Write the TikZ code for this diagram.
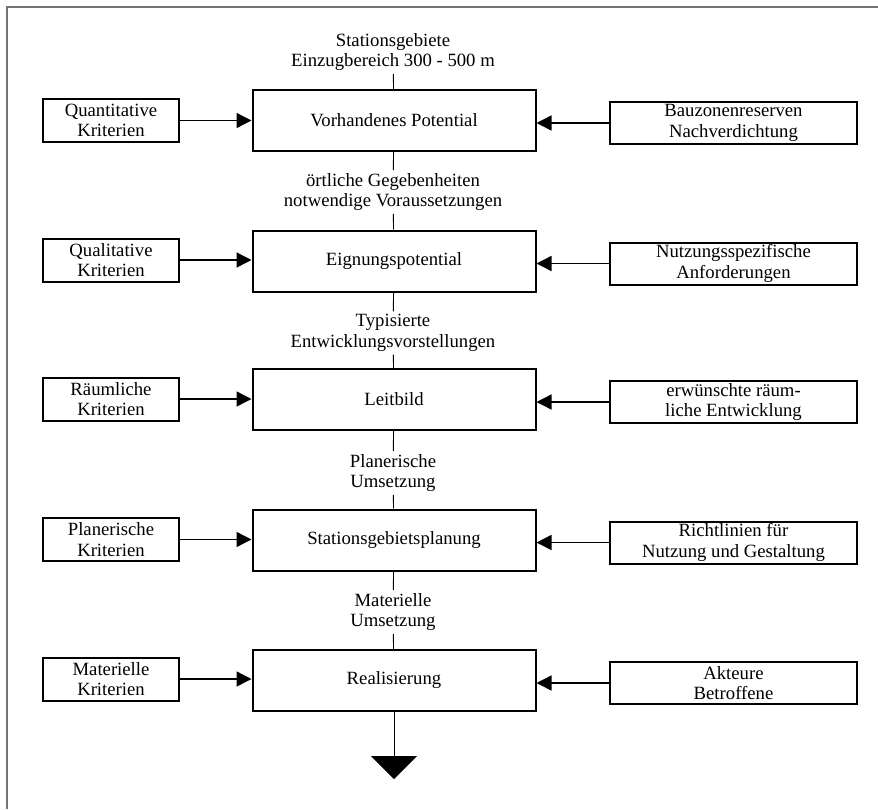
\documentclass[tikz,border=0pt]{standalone}
\usepackage{fontspec}
\setmainfont{Liberation Serif}
\usetikzlibrary{arrows.meta}
\begin{document}
\begin{tikzpicture}[x=1pt,y=-1pt,
  every node/.style={font=\fontsize{18.7}{20.5}\selectfont, align=center, inner sep=0pt},
  mainbox/.style={draw, line width=2pt, minimum width=283, minimum height=61},
  leftbox/.style={draw, line width=2pt, minimum width=136, minimum height=43},
  rightbox/.style={draw, line width=2pt, minimum width=247, minimum height=42},
  label/.style={inner sep=3pt},
  feed/.style={line width=1.4pt, -{Triangle[length=15pt,width=15pt]}},
  link/.style={line width=0.9pt}]
  % page bounds and frame
  \useasboundingbox (0,0) rectangle (878,809);
  \draw[line width=1.6pt, black!55] (7,809) -- (7,7) -- (878,7);

  % central chain
  \node[label] (t1) at (393,52) {Stationsgebiete\\Einzugbereich 300 - 500 m};
  \node[mainbox] (m1) at (394,120.5) {Vorhandenes Potential};
  \node[label] (t2) at (393,192) {örtliche Gegebenheiten\\notwendige Voraussetzungen};
  \node[mainbox] (m2) at (394,261) {Eignungspotential};
  \node[label] (t3) at (393,333) {Typisierte\\Entwicklungsvorstellungen};
  \node[mainbox] (m3) at (394,399.5) {Leitbild};
  \node[label] (t4) at (393,473) {Planerische\\Umsetzung};
  \node[mainbox] (m4) at (394,540) {Stationsgebietsplanung};
  \node[label] (t5) at (393,612) {Materielle\\Umsetzung};
  \node[mainbox] (m5) at (394,680.5) {Realisierung};
  \coordinate (end) at (394,779);

  % left inputs
  \node[leftbox] (l1) at (111,120.5) {Quantitative\\Kriterien};
  \node[leftbox] (l2) at (111,260) {Qualitative\\Kriterien};
  \node[leftbox] (l3) at (111,399) {Räumliche\\Kriterien};
  \node[leftbox] (l4) at (111,539.5) {Planerische\\Kriterien};
  \node[leftbox] (l5) at (111,679) {Materielle\\Kriterien};

  % right inputs
  \node[rightbox] (r1) at (733.5,123) {Bauzonenreserven\\Nachverdichtung};
  \node[rightbox] (r2) at (733.5,263.5) {Nutzungsspezifische\\Anforderungen};
  \node[rightbox] (r3) at (733.5,402) {erwünschte räum-\\liche Entwicklung};
  \node[rightbox] (r4) at (733.5,542.5) {Richtlinien für\\Nutzung und Gestaltung};
  \node[rightbox] (r5) at (733.5,683) {Akteure\\Betroffene};

  % vertical links
  \draw[link] (t1) -- (m1);
  \foreach \a/\b/\c in {m1/t2/m2, m2/t3/m3, m3/t4/m4, m4/t5/m5}{
    \draw[link] (\a) -- (\b);
    \draw[link] (\b) -- (\c);
  }
  \draw[line width=0.9pt, -{Triangle[length=23pt,width=46pt]}] (m5) -- (end);

  % horizontal feeds
  \foreach \i in {1,...,5}{
    \draw[feed] (l\i.east) -- (l\i.east -| m\i.west);
    \draw[feed] (r\i.west) -- (r\i.west -| m\i.east);
  }
\end{tikzpicture}
\end{document}
